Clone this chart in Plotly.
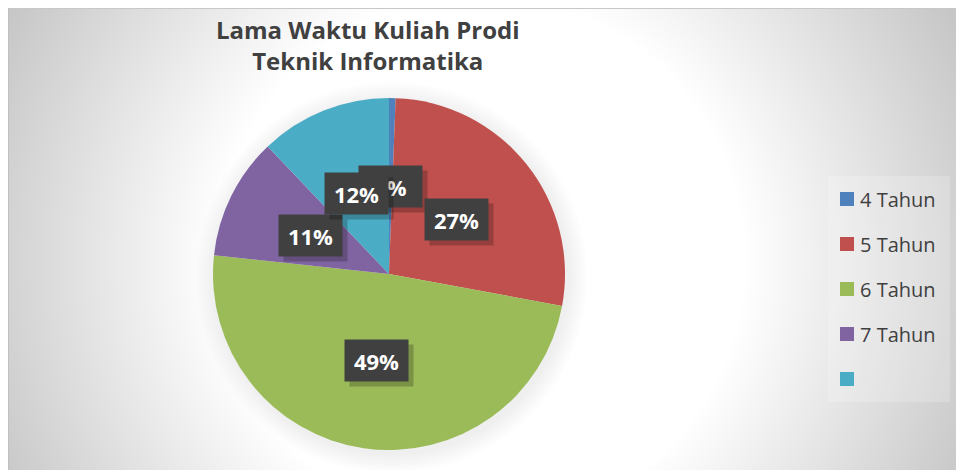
import zlib, struct, base64
import numpy as np
import plotly.graph_objects as go

# ---------------- data ----------------
categories = ["4 Tahun", "5 Tahun", "6 Tahun", "7 Tahun", ""]
values = [0.6, 27.3, 48.8, 11.2, 12.1]
colors = ["#4F81BD", "#C0504D", "#9BBB59", "#8064A2", "#4BACC6"]
title_lines = ["Lama Waktu Kuliah Prodi", "Teknik Informatika"]

W, H = 956, 470
CX, CY, R = 389, 274, 176  # pie centre / radius in px
X0, Y0 = 8, 8              # chart-area top-left corner


def px(x):
    return x / W


def py(y):
    return 1 - y / H


# ---------------- background image (radial gradient + pie shadow) ----------------
def png_bytes(arr):
    h, w, _ = arr.shape
    raw = b"".join(b"\x00" + arr[i].tobytes() for i in range(h))

    def chunk(t, d):
        c = struct.pack(">I", len(d)) + t + d
        return c + struct.pack(">I", zlib.crc32(t + d) & 0xFFFFFFFF)

    return (b"\x89PNG\r\n\x1a\n"
            + chunk(b"IHDR", struct.pack(">IIBBBBB", w, h, 8, 2, 0, 0, 0))
            + chunk(b"IDAT", zlib.compress(raw, 9))
            + chunk(b"IEND", b""))


iw, ih = W - X0, H - Y0
yy, xx = np.mgrid[0:ih, 0:iw].astype(float)
xx += X0
yy += Y0
d = np.hypot(xx - 480, yy - 260)
g = 255 - 0.21 * np.clip(d - 265, 0, None)
dp = np.hypot(xx - CX - 2, yy - CY - 3)
shade = 16 * np.clip(1 - (dp - R) / 20, 0, 1)
g = g - shade
g = np.clip(g, 185, 255).astype(np.uint8)
img = np.stack([g, g, g], axis=-1)
uri = "data:image/png;base64," + base64.b64encode(png_bytes(img)).decode()

fig = go.Figure()
fig.add_trace(go.Pie(
    labels=categories, values=values, sort=False, direction="clockwise",
    rotation=0, marker=dict(colors=colors, line=dict(width=0)),
    textinfo="none", showlegend=False, hoverinfo="label+percent",
    domain=dict(x=[px(CX - R), px(CX + R)], y=[py(CY + R), py(CY - R)]),
))

shapes = []
annotations = []

# chart-area border (top and left edges visible)
shapes.append(dict(type="line", xref="paper", yref="paper",
                   x0=px(X0), x1=1, y0=py(Y0 + 0.5), y1=py(Y0 + 0.5),
                   line=dict(color="#C8C8C8", width=1), layer="above"))
shapes.append(dict(type="line", xref="paper", yref="paper",
                   x0=px(X0 + 0.5), x1=px(X0 + 0.5), y0=0, y1=py(Y0),
                   line=dict(color="#C0C0C0", width=1), layer="above"))

# data labels
total = sum(values)
cum = 0
for v in values:
    theta = 2 * np.pi * (cum + v / 2) / total
    cum += v
    lx = CX + 0.495 * R * np.sin(theta)
    ly = CY - 0.495 * R * np.cos(theta)
    txt = f"{round(v / total * 100)}%"
    common = dict(xref="paper", yref="paper", x=px(lx), y=py(ly),
                  showarrow=False, width=51, height=29, borderpad=6,
                  xanchor="center", yanchor="middle")
    annotations.append(dict(text=txt, font=dict(family="Open Sans", size=22,
                                                   color="rgba(0,0,0,0)"),
                            bgcolor="rgba(0,0,0,0.22)", xshift=5, yshift=-5,
                            **common))
    annotations.append(dict(text=f"<b>{txt}</b>",
                            font=dict(family="Open Sans", size=22, color="white"),
                            bgcolor="#404040", **common))

# title
annotations.append(dict(text="<b>" + "<br>".join(title_lines) + "</b>",
                        xref="paper", yref="paper", x=px(368), y=py(45),
                        xanchor="center", yanchor="middle", showarrow=False,
                        font=dict(family="Open Sans", size=24, color="#404040")))

# legend
shapes.append(dict(type="rect", xref="paper", yref="paper",
                   x0=px(828), x1=px(950), y0=py(402), y1=py(176),
                   fillcolor="rgba(255,255,255,0.2)", line=dict(width=0)))
for i, (cat, col) in enumerate(zip(categories, colors)):
    yc = 199 + 45 * i
    shapes.append(dict(type="rect", xref="paper", yref="paper",
                       x0=px(840), x1=px(854), y0=py(yc + 7), y1=py(yc - 7),
                       fillcolor=col, line=dict(width=0)))
    if cat:
        annotations.append(dict(text=cat, xref="paper", yref="paper",
                                x=px(858), y=py(yc), xanchor="left",
                                yanchor="middle", showarrow=False,
                                font=dict(family="Open Sans", size=20,
                                          color="#404040")))

fig.update_layout(
    width=W, height=H, margin=dict(l=0, r=0, t=0, b=0),
    paper_bgcolor="white", plot_bgcolor="white",
    images=[dict(source=uri, xref="paper", yref="paper", x=px(X0), y=py(Y0),
                 sizex=iw / W, sizey=ih / H, xanchor="left", yanchor="top",
                 sizing="stretch", layer="below")],
    shapes=shapes, annotations=annotations,
)

fig.write_html("out.html", config={"displayModeBar": False},
               post_script="document.body.style.margin='0';"
                           "document.body.style.overflow='hidden';")
